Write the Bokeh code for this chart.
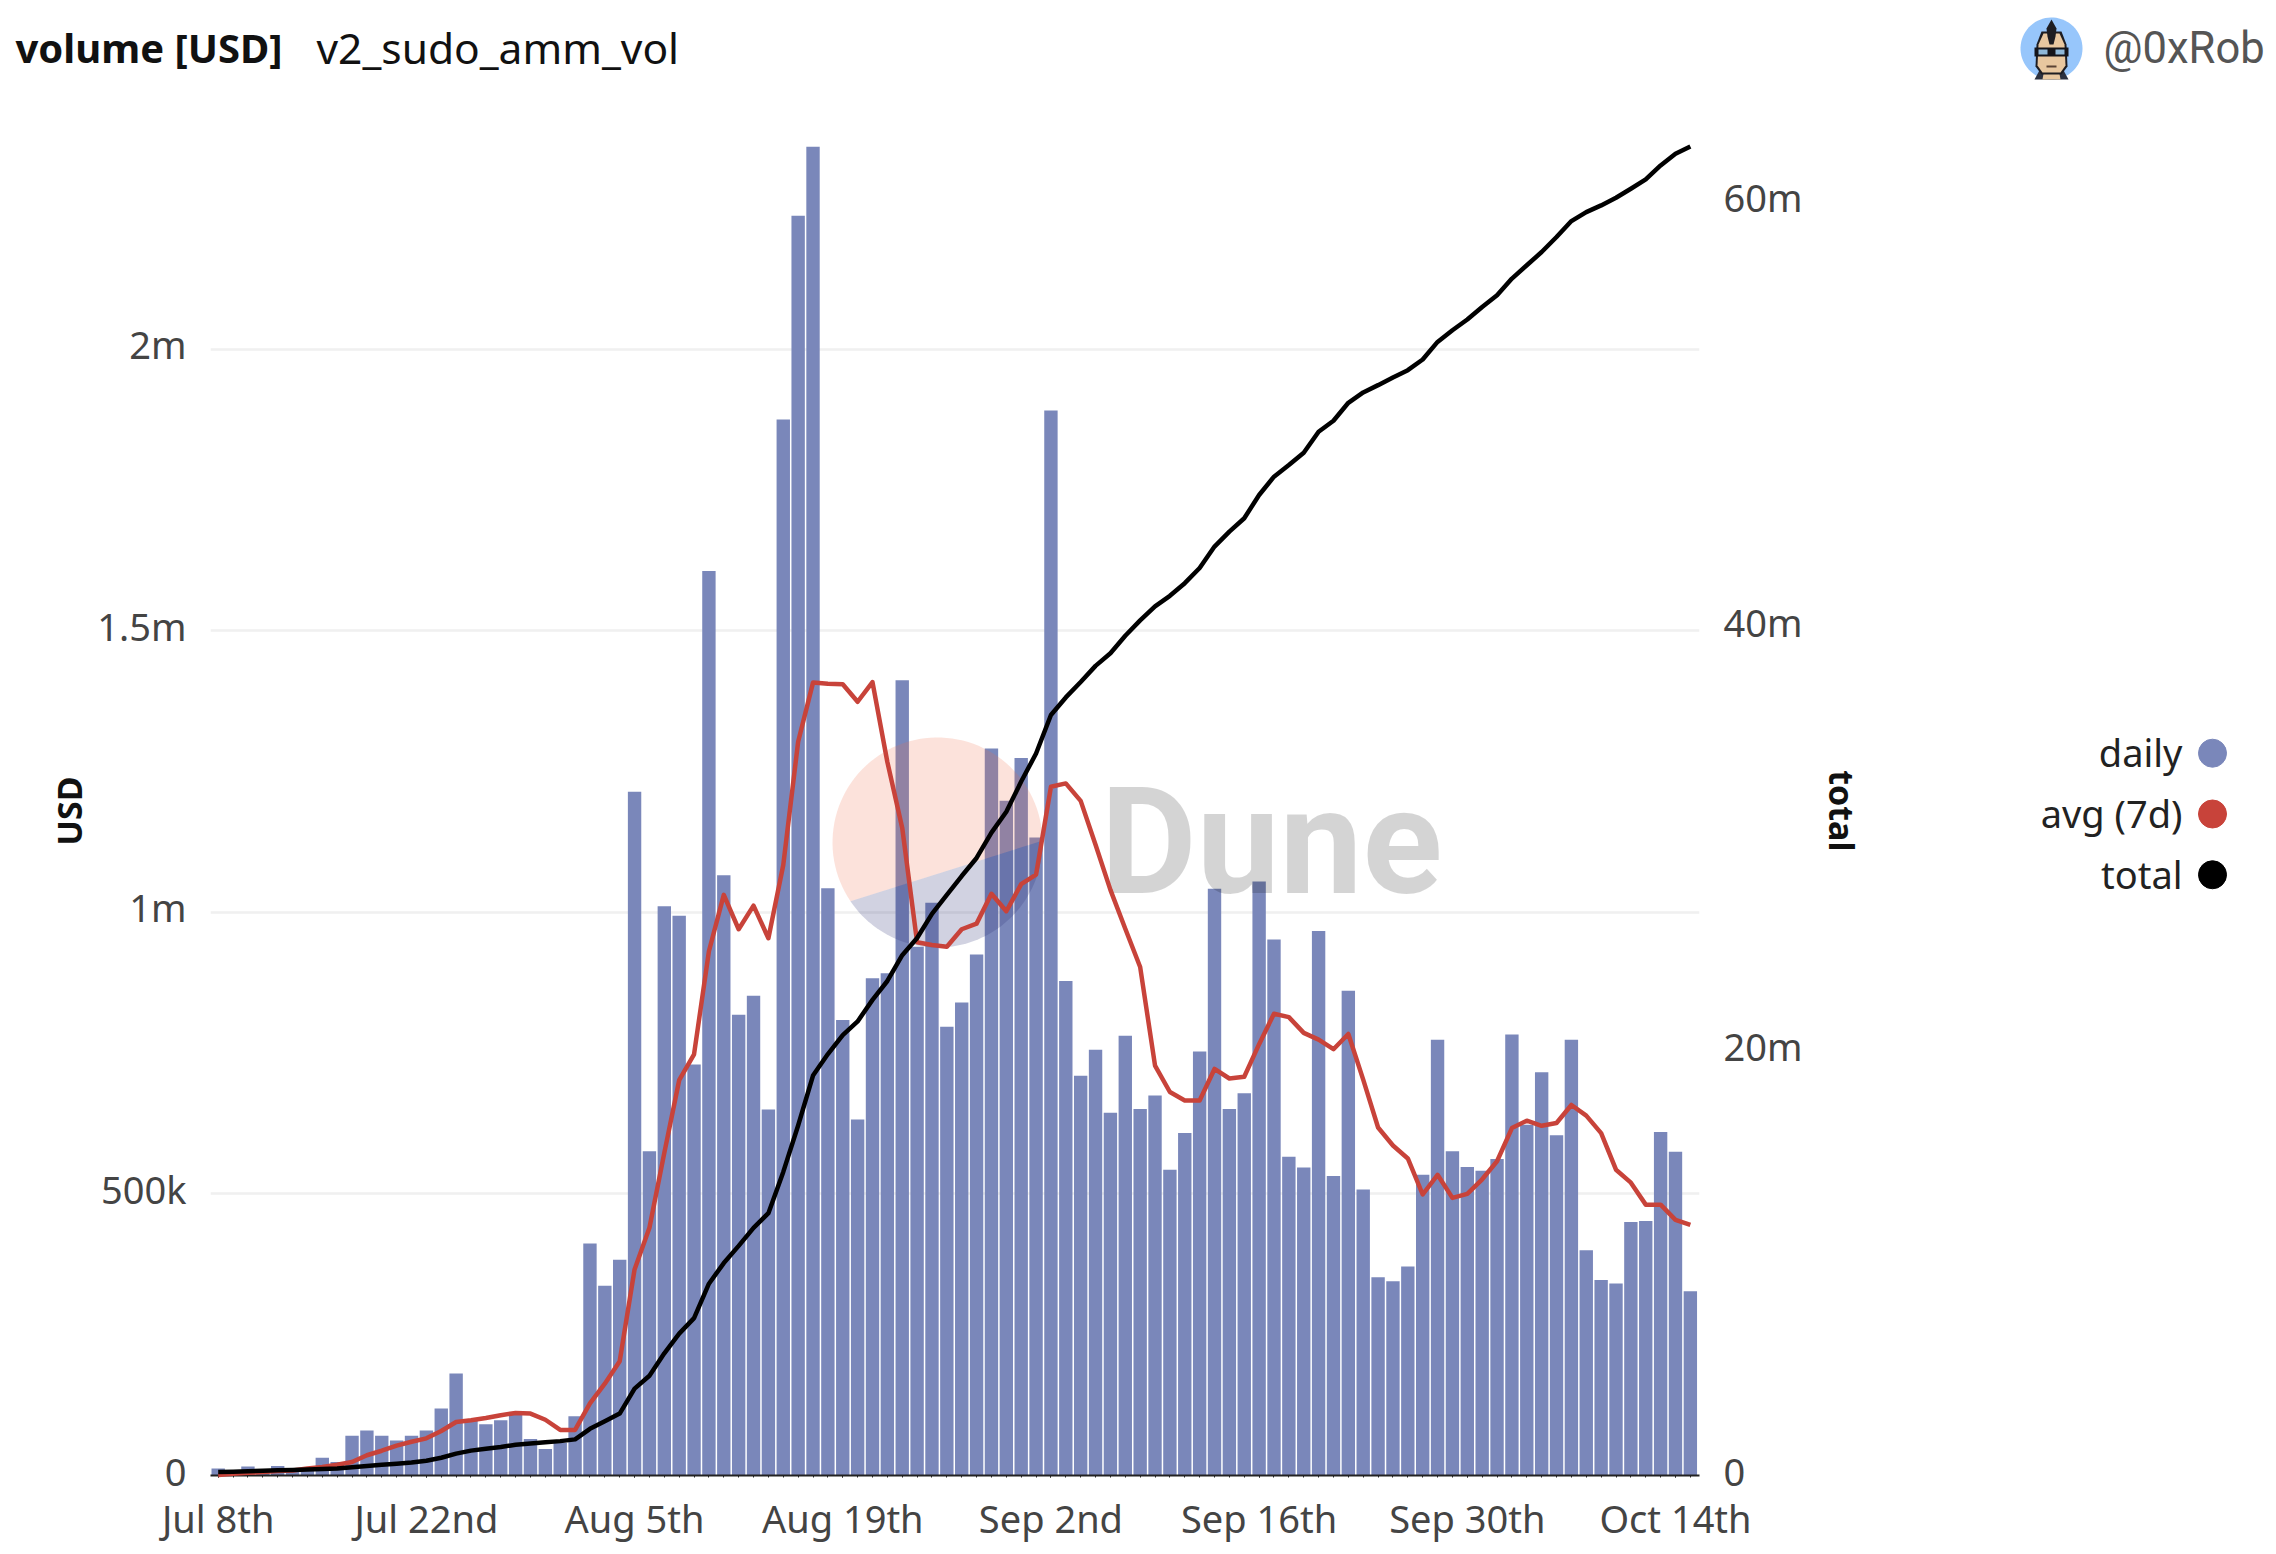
from bokeh.embed import file_html
from bokeh.layouts import column, row
from bokeh.models import FixedTicker, Label, LinearAxis, PolyAnnotation, Range1d
from bokeh.plotting import figure
from bokeh.resources import INLINE
import numpy as np

# day 0 is Jul 8th, one value per day up to Oct 15th
daily = [
    12600, 8000, 15800, 10000, 16800, 12600, 13700, 31600, 24000, 70500,
    80000, 70500, 62000, 70500, 80000, 119000, 181000, 97000, 91000, 98000,
    110000, 65000, 47000, 58000, 105000, 412000, 337000, 383000, 1214000, 576000,
    1011000, 994000, 730000, 1606000, 1066000, 818000, 852000, 650000, 1875000, 2237000,
    2360000, 1043000, 809000, 632000, 883000, 892000, 1412000, 939000, 1017000, 797000,
    840000, 925000, 1291000, 1198000, 1274000, 1133000, 1891000, 878000, 710000, 756000,
    644000, 781000, 651000, 675000, 543000, 608000, 753000, 1042000, 651000, 679000,
    1055000, 952000, 566000, 547000, 967000, 532000, 861000, 508000, 352000, 345000,
    371000, 534000, 774000, 576000, 548000, 541000, 562000, 783000, 623000, 716000,
    604000, 774000, 400000, 347000, 341000, 450000, 452000, 610000, 575000, 327000,
]
avg_7d = [
    1000, 3000, 5000, 6000, 8000, 9000, 12600, 15000, 19000, 24000,
    36000, 44000, 53000, 60000, 66000, 79000, 95000, 98000, 102000, 107000,
    111000, 110000, 99000, 81000, 81000, 128000, 163000, 203000, 366000, 440000,
    573000, 702000, 748000, 931000, 1031000, 970000, 1012000, 954000, 1084000, 1303000,
    1408000, 1406000, 1405000, 1374000, 1409000, 1267000, 1150000, 947000, 942000, 939000,
    970000, 980000, 1033000, 1002000, 1050000, 1067000, 1223000, 1229000, 1198000, 1120000,
    1040000, 971000, 903000, 728000, 681000, 666000, 666000, 722000, 705000, 708000,
    766000, 820000, 814000, 786000, 774000, 757000, 784000, 703000, 618000, 586000,
    563000, 499000, 534000, 493000, 500000, 526000, 558000, 617000, 630000, 621000,
    626000, 658000, 639000, 608000, 543000, 520000, 481000, 481000, 454000, 445000,
]
total = [
    168000, 181000, 195000, 223000, 251000, 265000, 279000, 307000, 335000, 391000,
    447000, 503000, 558000, 614000, 698000, 838000, 1033000, 1173000, 1257000, 1340000,
    1452000, 1508000, 1564000, 1620000, 1703000, 2200000, 2553000, 2918000, 4094000, 4702000,
    5756000, 6688000, 7418000, 9039000, 10012000, 10822000, 11673000, 12362000, 14308000, 16497000,
    18848000, 19861000, 20753000, 21401000, 22415000, 23306000, 24522000, 25333000, 26468000, 27360000,
    28252000, 29103000, 30300000, 31285000, 32706000, 34027000, 35844000, 36670000, 37397000, 38157000,
    38751000, 39577000, 40304000, 40965000, 41460000, 42055000, 42770000, 43780000, 44486000, 45115000,
    46212000, 47074000, 47624000, 48203000, 49193000, 49708000, 50556000, 51045000, 51388000, 51751000,
    52094000, 52598000, 53426000, 53977000, 54481000, 55073000, 55624000, 56409000, 57036000, 57662000,
    58368000, 59120000, 59544000, 59859000, 60221000, 60645000, 61083000, 61741000, 62292000, 62635000,
]
days = list(range(len(daily)))
tick_days = [0, 14, 28, 42, 56, 70, 84, 98]
tick_labels = ["Jul 8th", "Jul 22nd", "Aug 5th", "Aug 19th", "Sep 2nd", "Sep 16th", "Sep 30th", "Oct 14th"]
left_ticks = [0, 500000, 1000000, 1500000, 2000000]
left_labels = ["0", "500k", "1m", "1.5m", "2m"]
right_ticks = [0, 20000000, 40000000, 60000000]
right_labels = ["0", "20m", "40m", "60m"]
legend_names = ["daily", "avg (7d)", "total"]

BLUE = "#7a87ba"
RED = "#c8433a"
BLACK = "#000000"
TICK = "#444444"
FONT = "Noto Sans"

PAGE_W = 2268
PAGE_H = 1546
HEAD_H = 130
MAIN_W = 1880
FRAME_TOP = 146
FRAME_BOTTOM = 1480
LEFT_MAX = 2360000
RIGHT_MAX = 62635000
LABEL_LIFT = 5 / (FRAME_BOTTOM - FRAME_TOP)  # y tick labels sit 5px above their gridlines

p = figure(
    width=MAIN_W,
    height=PAGE_H - HEAD_H,
    x_range=Range1d(-0.518, 99.615),
    y_range=Range1d(0, LEFT_MAX),
    output_backend="svg",
    toolbar_location=None,
    tools="",
    min_border_left=210,
    min_border_right=181,
    min_border_top=FRAME_TOP - HEAD_H,
    min_border_bottom=PAGE_H - FRAME_BOTTOM,
    outline_line_color=None,
)
p.extra_y_ranges = {
    "total": Range1d(0, RIGHT_MAX),
    "left_labels": Range1d(-LEFT_MAX * LABEL_LIFT, LEFT_MAX * (1 - LABEL_LIFT)),
    "right_labels": Range1d(-RIGHT_MAX * LABEL_LIFT, RIGHT_MAX * (1 - LABEL_LIFT)),
}

p.vbar(x=days, top=daily, width=0.9, color=BLUE, line_color=None)
p.line(days, avg_7d, color=RED, line_width=4.5, line_join="round", level="overlay")
p.line(days, total, color=BLACK, line_width=4.5, line_join="round", y_range_name="total", level="overlay")

p.xgrid.grid_line_color = None
p.ygrid.ticker = FixedTicker(ticks=left_ticks)
p.ygrid.grid_line_color = "#f0f0f0"
p.ygrid.grid_line_width = 2.5

xaxis = p.xaxis[0]
xaxis.ticker = FixedTicker(ticks=tick_days, minor_ticks=days)
xaxis.major_label_overrides = dict(zip(tick_days, tick_labels))
xaxis.axis_line_color = "#222222"
xaxis.axis_line_width = 2
xaxis.major_tick_line_color = "#222222"
xaxis.minor_tick_line_color = "#222222"
xaxis.major_tick_in = 0
xaxis.minor_tick_in = 0
xaxis.major_tick_out = 2
xaxis.minor_tick_out = 2
xaxis.major_label_standoff = 14

p.yaxis.visible = False
yaxis = LinearAxis(y_range_name="left_labels")
yaxis.ticker = FixedTicker(ticks=left_ticks)
yaxis.major_label_overrides = dict(zip(left_ticks, left_labels))
yaxis.axis_label = "USD"
yaxis.axis_label_standoff = 2
p.add_layout(yaxis, "left")

right = LinearAxis(y_range_name="right_labels")
right.ticker = FixedTicker(ticks=right_ticks)
right.major_label_overrides = dict(zip(right_ticks, right_labels))
right.axis_label = "total"
right.axis_label_standoff = 13
p.add_layout(right, "right")

for axis in [yaxis, right]:
    axis.axis_line_color = None
    axis.major_tick_line_color = None
    axis.minor_tick_line_color = None
    axis.major_label_standoff = 18
    axis.axis_label_text_font = FONT
    axis.axis_label_text_font_size = "34px"
    axis.axis_label_text_font_style = "bold"
    axis.axis_label_text_color = "#111111"
for axis in [xaxis, yaxis, right]:
    axis.major_label_text_font = FONT
    axis.major_label_text_font_size = "38px"
    axis.major_label_text_color = TICK


def arc(cx, cy, r, a0=0.0, a1=360.0):
    angles = np.radians(np.linspace(a0, a1, 72))
    return list(cx + r * np.cos(angles)), list(cy + r * np.sin(angles))


def pixel_figure(left, top, width, height, bottom=None):
    # blank figure whose data coordinates are page pixels
    f = figure(
        width=width,
        height=height,
        x_range=Range1d(left, left + width),
        y_range=Range1d(bottom or top + height, top),
        output_backend="svg",
        toolbar_location=None,
        tools="",
        min_border=0,
        outline_line_color=None,
    )
    f.axis.visible = False
    f.grid.visible = False
    return f


def write(f, x, y, value, size, color="#111111", style="normal", font=FONT, align="left"):
    f.text(
        x=[x], y=[y], text=[value], text_font={"value": font}, text_font_size={"value": size},
        text_color=color, text_font_style=style, text_align=align, text_baseline="alphabetic",
    )


def shape(f, xs, ys, color):
    f.patch(xs, ys, fill_color=color, line_color=None)


# watermark sits over the bars, under the lines
def veil(xs, ys, color, alpha):
    p.add_layout(PolyAnnotation(
        xs=xs, ys=[y - HEAD_H for y in ys], xs_units="canvas", ys_units="canvas",
        fill_color=color, fill_alpha=alpha, line_color=None,
    ))


veil(*arc(937, 842, 105, 146, 359), "#f0704a", 0.2)
veil(*arc(937, 842, 105, -1, 146), "#2c3278", 0.22)
p.add_layout(Label(
    x=1100, y=893 - HEAD_H - 51, x_units="canvas", y_units="canvas", text="Dune",
    text_font="Roboto", text_font_size="148px", text_font_style="bold",
    text_color="#000000", text_alpha=0.17, text_baseline="alphabetic",
))

# header
head = pixel_figure(0, 0, PAGE_W, HEAD_H)
write(head, 15, 47, "volume [USD]", "40px", style="bold")
write(head, 316, 47, "v2_sudo_amm_vol", "42.5px")
write(head, 2103, 48, "@0xRob", "43.5px", color="#555555", font="Roboto")

# avatar
shape(head, *arc(2051, 48, 31), "#97c6fb")
shape(head, [2034, 2068, 2062, 2040], [79, 79, 68, 68], "#2b3140")
shape(head, [2044, 2058, 2060, 2042], [68, 68, 79, 79], "#e8c79f")
shape(head, [2036, 2041, 2061, 2066, 2067, 2061, 2041, 2035], [44, 31, 31, 44, 66, 74, 74, 66], "#1d1d22")
shape(head, [2038, 2043, 2059, 2064, 2065, 2060, 2042, 2037], [44, 33, 33, 44, 65, 72, 72, 65], "#e8c79f")
shape(head, [2051, 2056, 2055, 2053, 2049, 2047, 2046], [19, 28, 36, 44, 44, 36, 28], "#1d1d22")
shape(head, [2034, 2068, 2068, 2034], [47, 47, 56, 56], "#15151a")
shape(head, [2038, 2047, 2047, 2038], [49, 49, 54, 54], "#8fb8d8")
shape(head, [2055, 2064, 2064, 2055], [49, 49, 54, 54], "#8fb8d8")
shape(head, [2046, 2056, 2056, 2046], [65, 65, 67, 67], "#5a4334")

# legend: text on the left of the dot, which a bokeh legend can't do
# the row lines this figure's frame up with the main one, so use the same top and bottom
side = pixel_figure(MAIN_W, FRAME_TOP, PAGE_W - MAIN_W, PAGE_H - HEAD_H, FRAME_BOTTOM)
for name, color, y in zip(legend_names, [BLUE, RED, BLACK], [755, 816, 877]):
    write(side, 2182, y - 1, name, "38px", color="#222222", align="right")
    side.scatter(x=[2212], y=[y], size=28, color=color)

page = column(head, row(p, side))
open("out.html", "w").write(file_html(page, INLINE))
